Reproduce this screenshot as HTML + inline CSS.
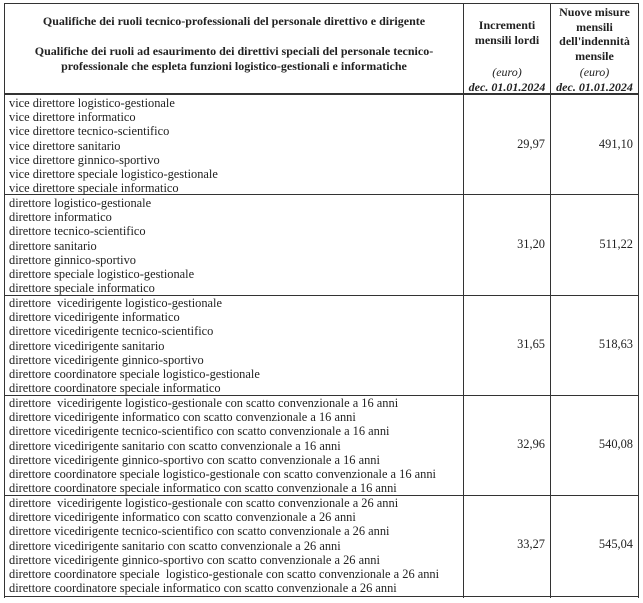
<!DOCTYPE html>
<html><head><meta charset="utf-8">
<style>
body{margin:0;background:#fff;width:643px;height:603px;position:relative;overflow:hidden;font-family:"Liberation Serif",serif;color:#222;}
.l{position:absolute;background:#333;}
.t{position:absolute;font-size:12.4px;line-height:14.2px;white-space:nowrap;}
.h{font-size:12px;}
.b{font-weight:bold;}
.c{text-align:center;}
.r{text-align:right;}
.i{font-style:italic;}
</style></head><body>
<div class="l" style="left:4px;top:3px;width:1px;height:595px"></div>
<div class="l" style="left:463px;top:3px;width:1px;height:595px"></div>
<div class="l" style="left:550px;top:3px;width:1px;height:595px"></div>
<div class="l" style="left:638px;top:3px;width:1px;height:595px"></div>
<div class="l" style="left:4px;top:3px;width:635px;height:1px"></div>
<div class="l" style="left:4px;top:93px;width:635px;height:2px"></div>
<div class="l" style="left:4px;top:194px;width:635px;height:1px"></div>
<div class="l" style="left:4px;top:295px;width:635px;height:1px"></div>
<div class="l" style="left:4px;top:395px;width:635px;height:1px"></div>
<div class="l" style="left:4px;top:495px;width:635px;height:1px"></div>
<div class="l" style="left:4px;top:596px;width:635px;height:1px"></div>

<div class="t h b c" style="left:5px;width:458px;top:14px">Qualifiche dei ruoli tecnico-professionali del personale direttivo e dirigente</div>
<div class="t h b c" style="left:5px;width:458px;top:44px;line-height:15px">Qualifiche dei ruoli ad esaurimento dei direttivi speciali del personale tecnico-<br>professionale che espleta funzioni logistico-gestionali e informatiche</div>
<div class="t h b c" style="left:464px;width:86px;top:18px;line-height:15px">Incrementi<br>mensili lordi</div>
<div class="t h i c" style="left:464px;width:86px;top:65px">(euro)</div>
<div class="t h b i c" style="left:464px;width:86px;top:80px">dec. 01.01.2024</div>
<div class="t h b c" style="left:551px;width:87px;top:5px;line-height:14.5px">Nuove misure<br>mensili<br>dell'indennità<br>mensile</div>
<div class="t h i c" style="left:551px;width:87px;top:65px">(euro)</div>
<div class="t h b i c" style="left:551px;width:87px;top:80px">dec. 01.01.2024</div>

<div class="t" style="left:9px;top:96px">vice direttore logistico-gestionale<br>vice direttore informatico<br>vice direttore tecnico-scientifico<br>vice direttore sanitario<br>vice direttore ginnico-sportivo<br>vice direttore speciale logistico-gestionale<br>vice direttore speciale informatico</div>
<div class="t r" style="left:445px;width:100px;top:137px">29,97</div>
<div class="t r" style="left:533px;width:100px;top:137px">491,10</div>

<div class="t" style="left:9px;top:196px">direttore logistico-gestionale<br>direttore informatico<br>direttore tecnico-scientifico<br>direttore sanitario<br>direttore ginnico-sportivo<br>direttore speciale logistico-gestionale<br>direttore speciale informatico</div>
<div class="t r" style="left:445px;width:100px;top:237px">31,20</div>
<div class="t r" style="left:533px;width:100px;top:237px">511,22</div>

<div class="t" style="left:9px;top:296px">direttore &nbsp;vicedirigente logistico-gestionale<br>direttore vicedirigente informatico<br>direttore vicedirigente tecnico-scientifico<br>direttore vicedirigente sanitario<br>direttore vicedirigente ginnico-sportivo<br>direttore coordinatore speciale logistico-gestionale<br>direttore coordinatore speciale informatico</div>
<div class="t r" style="left:445px;width:100px;top:337px">31,65</div>
<div class="t r" style="left:533px;width:100px;top:337px">518,63</div>

<div class="t" style="left:9px;top:396px">direttore &nbsp;vicedirigente logistico-gestionale con scatto convenzionale a 16 anni<br>direttore vicedirigente informatico con scatto convenzionale a 16 anni<br>direttore vicedirigente tecnico-scientifico con scatto convenzionale a 16 anni<br>direttore vicedirigente sanitario con scatto convenzionale a 16 anni<br>direttore vicedirigente ginnico-sportivo con scatto convenzionale a 16 anni<br>direttore coordinatore speciale logistico-gestionale con scatto convenzionale a 16 anni<br>direttore coordinatore speciale informatico con scatto convenzionale a 16 anni</div>
<div class="t r" style="left:445px;width:100px;top:437px">32,96</div>
<div class="t r" style="left:533px;width:100px;top:437px">540,08</div>

<div class="t" style="left:9px;top:496px">direttore &nbsp;vicedirigente logistico-gestionale con scatto convenzionale a 26 anni<br>direttore vicedirigente informatico con scatto convenzionale a 26 anni<br>direttore vicedirigente tecnico-scientifico con scatto convenzionale a 26 anni<br>direttore vicedirigente sanitario con scatto convenzionale a 26 anni<br>direttore vicedirigente ginnico-sportivo con scatto convenzionale a 26 anni<br>direttore coordinatore speciale &nbsp;logistico-gestionale con scatto convenzionale a 26 anni<br>direttore coordinatore speciale informatico con scatto convenzionale a 26 anni</div>
<div class="t r" style="left:445px;width:100px;top:537px">33,27</div>
<div class="t r" style="left:533px;width:100px;top:537px">545,04</div>
</body></html>
